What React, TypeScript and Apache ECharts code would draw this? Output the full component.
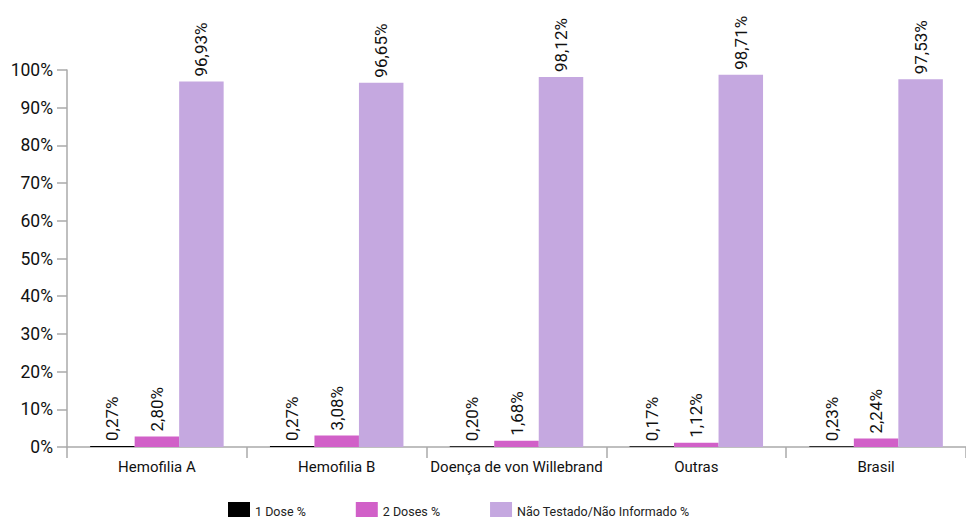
import React, { useEffect, useRef } from "react";
import * as echarts from "echarts";

const categories = ["Hemofilia A", "Hemofilia B", "Doença de von Willebrand", "Outras", "Brasil"];
const oneDose = [0.27, 0.27, 0.2, 0.17, 0.23];
const twoDoses = [2.8, 3.08, 1.68, 1.12, 2.24];
const notTested = [96.93, 96.65, 98.12, 98.71, 97.53];
const seriesNames = ["1 Dose %", "2 Doses %", "Não Testado/Não Informado %"];
const colors = ["#000000", "#d160c8", "#c5a8e0"];

const FONT = "Roboto, 'Noto Sans', sans-serif";

export default function App() {
  const ref = useRef<HTMLDivElement>(null);
  useEffect(() => {
    if (!ref.current) return;
    const chart = echarts.init(ref.current, null, { renderer: "svg" });
    const fmt = (p: any) => p.value.toFixed(2).replace(".", ",") + "%";
    const mk = (name: string, data: number[], color: string) => ({
      name,
      type: "bar",
      data,
      barWidth: 44.5,
      barGap: "0%",
      itemStyle: { color },
      label: {
        show: true,
        position: "top",
        rotate: 90,
        align: "left",
        verticalAlign: "middle",
        distance: 5,
        color: "#111",
        fontSize: 17,
        fontFamily: FONT,
        formatter: fmt,
      },
    });
    chart.setOption({
      animation: false,
      textStyle: { fontFamily: FONT },
      grid: { left: 67, top: 70, bottom: 70, width: 908, containLabel: false },
      legend: {
        top: 497,
        left: 223,
        itemWidth: 22,
        itemHeight: 18,
        itemGap: 50,
        icon: "rect",
        textStyle: { fontSize: 12.5, lineHeight: 14, color: "#222", fontFamily: FONT },
        data: seriesNames,
      },
      xAxis: {
        type: "category",
        data: categories,
        axisLine: { lineStyle: { color: "#aaa", width: 1.5 } },
        axisTick: { show: true, length: 11, lineStyle: { color: "#aaa", width: 1.5 } },
        axisLabel: { interval: 0, fontSize: 15, color: "#111", margin: 12, fontFamily: FONT },
      },
      yAxis: {
        type: "value",
        min: 0,
        max: 100,
        interval: 10,
        splitLine: { show: false },
        axisLine: { show: true, lineStyle: { color: "#aaa", width: 1.5 } },
        axisTick: { show: true, length: 10, lineStyle: { color: "#aaa", width: 1.5 } },
        axisLabel: { fontSize: 17.5, color: "#111", margin: 14, formatter: "{value}%", fontFamily: FONT },
      },
      series: [
        mk(seriesNames[0], oneDose, colors[0]),
        mk(seriesNames[1], twoDoses, colors[1]),
        mk(seriesNames[2], notTested, colors[2]),
      ],
    });
    return () => chart.dispose();
  }, []);
  return (
    <div
      ref={ref}
      style={{ position: "fixed", left: 0, top: 0, width: 966, height: 517, background: "#fff" }}
    />
  );
}
